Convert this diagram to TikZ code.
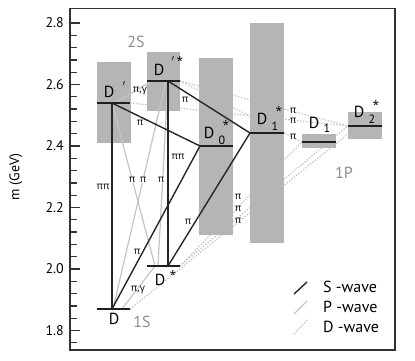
\documentclass[tikz,border=0pt]{standalone}
\usepackage{fontspec}
\setmainfont{PT Sans}
\newfontfamily\grk{Open Sans}
\definecolor{boxg}{RGB}{181,181,181}
\definecolor{lg}{RGB}{140,140,140}
\definecolor{pg}{RGB}{196,196,196}
\definecolor{dg}{RGB}{190,190,190}
\definecolor{fr}{RGB}{50,50,50}
\tikzset{
 box/.style={fill=boxg},
 lvl/.style={line width=2pt, draw=black!88},
 swave/.style={line width=1.4pt, draw=black!85},
 pwave/.style={line width=1.2pt, draw=pg},
 dwave/.style={line width=1.1pt, draw=dg, dash pattern=on 1.4pt off 1.6pt},
 st/.style={inner sep=0pt, font=\fontsize{16}{16}\selectfont},
 sub/.style={inner sep=0pt, font=\fontsize{12}{12}\selectfont},
 starl/.style={inner sep=0pt, anchor=north, font=\grk\fontsize{12}{12}\selectfont},
 pil/.style={inner sep=0pt, font=\grk\fontsize{10}{10}\selectfont},
 pilw/.style={pil, fill=white, inner sep=0.6pt},
 grp/.style={inner sep=0pt, text=lg, font=\fontsize{16}{16}\selectfont},
 tickl/.style={line width=1.3pt, draw=fr},
 ticklab/.style={inner sep=0pt, anchor=east, font=\fontsize{14}{14}\selectfont},
 legt/.style={inner sep=0pt, anchor=west, font=\fontsize{16}{16}\selectfont},
}
\begin{document}
\begin{tikzpicture}[x=1pt,y=-1pt]
\useasboundingbox (0,0) rectangle (415,361);
% ---- level coordinates
\coordinate (Dl) at (97,309);  \coordinate (Dr) at (130,309);
\coordinate (Dv) at (112,309); \coordinate (Dg1) at (113,309); \coordinate (Dg2) at (122,309);
\coordinate (Sl) at (147,266); \coordinate (Sr) at (180,266);
\coordinate (Sv) at (168,266); \coordinate (Sg1) at (155,266); \coordinate (Sg2) at (158,266);
\coordinate (Pl) at (97,103);  \coordinate (Pr) at (130,103);
\coordinate (Pv) at (112,103); \coordinate (Pg) at (115,103);
\coordinate (Ql) at (147,81);  \coordinate (Qr) at (180,81);
\coordinate (Qv) at (168,81);  \coordinate (Qg0) at (152,81); \coordinate (Qg1) at (166,81);
\coordinate (Z0l) at (200,146); \coordinate (Z0r) at (233,146);
\coordinate (Z1l) at (250,133); \coordinate (Z1r) at (284,133);
\coordinate (N1l) at (302,142); \coordinate (N1r) at (336,142);
\coordinate (N2l) at (348,126); \coordinate (N2r) at (382,126);
\coordinate (N2b) at (348,134);
% ---- D-wave (dotted), drawn below the boxes
\draw[dwave] (Qr) -- (N2l);
\draw[dwave] (Pr) -- (N2l);
\draw[dwave] (Qr) -- (N1l);
\draw[dwave] (Sr) -- (N1l);
\draw[dwave] (Sr) -- (N2l);
\draw[dwave] (Dr) -- (N2b);
% ---- width boxes
\fill[box] (97,62) rectangle (131,143);
\fill[box] (147,52) rectangle (180,111);
\fill[box] (199,58) rectangle (233,235);
\fill[box] (250,23) rectangle (284,243);
\fill[box] (302,134) rectangle (336,148);
\fill[box] (348,112) rectangle (382,139);
% ---- frame and axis
\draw[line width=1.5pt, draw=fr] (70,8.5) rectangle (395,350);
\foreach \i in {0,...,26} \draw[tickl] (70,{23+(26-\i)*12.3}) -- ++(7,0);
\foreach \yy/\t/\n in {23/2.8/a, 84.5/2.6/b, 146/2.4/c, 207.5/2.2/d, 269/2.0/e, 330.5/1.8/f}{
  \draw[tickl] (70,\yy) -- (80,\yy);
  \node[ticklab] (tk\n) at (64,\yy) {\t};
}
\node[rotate=90, inner sep=0pt, font=\fontsize{14}{14}\selectfont] (ylab) at (16,177) {m (GeV)};
% ---- P-wave (light solid)
\draw[pwave] (Pg) -- (Qg0);
\draw[pwave] (Pv) -- (Sg1);
\draw[pwave] (Qg1) -- (Dg1);
\draw[pwave] (Qv) -- (Sg2);
\draw[pwave] (Sg1) -- (Dg2);
% ---- S-wave (black)
\draw[swave] (Pv) -- (Dv);
\draw[swave] (Qv) -- (Sv);
\draw[swave] (Pv) -- (Z0l);
\draw[swave] (Qv) -- (Z1l);
\draw[swave] (Z0l) -- (Dv);
\draw[swave] (Z1l) -- (Sv);
% ---- levels
\draw[lvl] (Dl) -- (Dr);
\draw[lvl] (Sl) -- (Sr);
\draw[lvl] (Pl) -- (Pr);
\draw[lvl] (Ql) -- (Qr);
\draw[lvl] (Z0l) -- (Z0r);
\draw[lvl] (Z1l) -- (Z1r);
\draw[lvl] (N1l) -- (N1r);
\draw[lvl] (N2l) -- (N2r);
% ---- state labels
\node[st] (lD) at (114,319) {D};
\node[grp] (l1S) at (142,322) {1S};
\node[st] (lDs) at (160,280) {D};
\node[starl] (lDsx) at (173,270) {*};
\node[st] (lDp) at (109,92) {D};
\node[inner sep=0pt, font=\fontsize{9}{9}\selectfont] (lDpp) at (124,84) {$\prime$};
\node[st] (lDps) at (159,70) {D};
\node[inner sep=0pt, font=\fontsize{9}{9}\selectfont] (lDpsp) at (173,59) {$\prime$};
\node[starl] (lDpsx) at (180,56) {*};
\node[st] (lD0) at (209,133) {D};
\node[sub] (lD0s) at (222,140) {0};
\node[starl] (lD0x) at (226,120) {*};
\node[st] (lD1s) at (262,119) {D};
\node[sub] (lD1ss) at (275,126) {1};
\node[starl] (lD1sx) at (279,106) {*};
\node[st] (lD1) at (314,123) {D};
\node[sub] (lD1n) at (327,128) {1};
\node[st] (lD2) at (359,112) {D};
\node[sub] (lD2s) at (372,119) {2};
\node[starl] (lD2x) at (376,100) {*};
\node[grp] (l2S) at (136,42) {2S};
\node[grp] (l1P) at (344,173) {1P};
% ---- transition labels
\node[pil] (p1) at (140,91) {π,γ};
\node[pil] (p2) at (140,123) {π};
\node[pil] (p3) at (185,100) {π};
\node[pil] (p4) at (103,187) {ππ};
\node[pil] (p5) at (178,157) {ππ};
\node[pilw] (p6) at (132,180) {π};
\node[pilw] (p7) at (143,180) {π};
\node[pilw] (p8) at (161,180) {π};
\node[pil] (p9) at (137,252) {π};
\node[pil] (p10) at (188,222) {π};
\node[pil] (p11) at (138,290) {π,γ};
\node[pil] (p12) at (293,110.5) {π};
\node[pil] (p13) at (293,120.5) {π};
\node[pil] (p14) at (293,137) {π};
\node[pil] (p15) at (238,197) {π};
\node[pil] (p16) at (238,209) {π};
\node[pil] (p17) at (238,221) {π};
% ---- legend
\coordinate (ls1) at (294,294); \coordinate (ls2) at (307,282);
\coordinate (lp1) at (294,314); \coordinate (lp2) at (307,301);
\coordinate (ld1) at (294,334); \coordinate (ld2) at (308,319);
\draw[swave] (ls1) -- (ls2);
\draw[pwave] (lp1) -- (lp2);
\draw[dwave] (ld1) -- (ld2);
\node[legt] (tS) at (323,287) {S -wave};
\node[legt] (tP) at (323,307) {P -wave};
\node[legt] (tD) at (323,327) {D -wave};
\end{tikzpicture}
\end{document}
